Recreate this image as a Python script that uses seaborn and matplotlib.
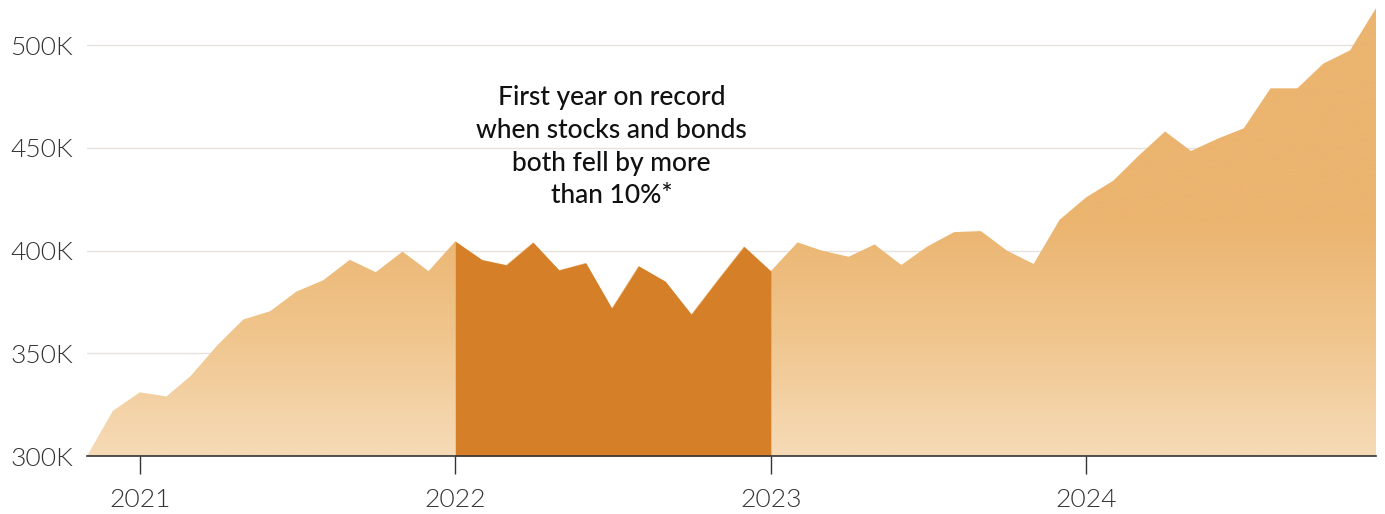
import numpy as np
import pandas as pd
import seaborn as sns
import matplotlib.pyplot as plt
import matplotlib.dates as mdates
from matplotlib.colors import LinearSegmentedColormap

# monthly values, Nov 2020 - Dec 2024 (thousands)
months = pd.date_range("2020-11-01", "2024-12-01", freq="MS")
values = [300, 322,
          331, 329, 339, 354, 366.5, 370.5, 380, 385.5, 395.5, 389.5, 399.5, 390,
          404.5, 395.5, 393, 404, 390.5, 394, 372, 392.5, 385, 369, 386, 402,
          390, 404, 400, 397, 403, 393, 402, 409, 409.5, 400, 393.5, 415,
          426, 434, 446, 458, 448.5, 454.5, 459.5, 479, 479, 491, 497.5, 518]
highlight_start = "2022-01-01"
highlight_end = "2023-01-01"
year_ticks = ["2021-01-01", "2022-01-01", "2023-01-01", "2024-01-01"]
year_labels = ["2021", "2022", "2023", "2024"]
y_ticks = [300000, 350000, 400000, 450000, 500000]
y_labels = ["300K", "350K", "400K", "450K", "500K"]
note = "First year on record\nwhen stocks and bonds\nboth fell by more\nthan 10%*"

df = pd.DataFrame({"month": months, "value": np.array(values) * 1000})

sns.set_style("white")
plt.rcParams["font.family"] = ["Lato", "DejaVu Sans"]

fig = plt.figure(figsize=(13.85, 5.14), dpi=100)
ax = fig.add_axes([87 / 1385, 58 / 514, 1289 / 1385, 456 / 514])

sns.lineplot(data=df, x="month", y="value", ax=ax, lw=0)

ymin, ymax = 300000, 522000
x = mdates.date2num(df["month"])
y = df["value"].values

# gradient fill clipped to the area (light at the bottom)
poly = ax.fill_between(x, ymin, y, color="none", lw=0)
cmap = LinearSegmentedColormap.from_list(
    "g", [(0, "#F6DBB7"), (0.5, "#F0C68E"), (1, "#EBB46F")])
ygrid = np.linspace(ymin, ymax, 400)
grad = np.clip((ygrid - ymin) / 115000, 0, 1)[:, None]
img = ax.imshow(grad, cmap=cmap, vmin=0, vmax=1, aspect="auto", origin="lower",
                extent=[x[0], x[-1], ymin, ymax], zorder=1, interpolation="bilinear")
img.set_clip_path(poly.get_paths()[0], transform=ax.transData)
poly.remove()

mask = (df["month"] >= highlight_start) & (df["month"] <= highlight_end)
ax.fill_between(x[mask], ymin, y[mask], color="#D67F29", lw=0, zorder=2)

ax.set_xlim(x[0], x[-1])
ax.set_ylim(ymin, ymax)

ax.set_yticks(y_ticks)
ax.set_yticklabels(y_labels)
ax.set_xticks(mdates.date2num(pd.to_datetime(year_ticks)))
ax.set_xticklabels(year_labels)
ax.set_xlabel("")
ax.set_ylabel("")

for t in ax.get_xticklabels() + ax.get_yticklabels():
    t.set_fontweight(300)
    t.set_fontsize(19)
    t.set_color("#333333")

ax.tick_params(axis="y", left=False, length=0, pad=10)
ax.tick_params(axis="x", bottom=True, length=13, width=1, color="#333333",
               pad=10, direction="out")

ax.grid(axis="y", color="#E6E3DF", lw=1, zorder=0)
ax.set_axisbelow(True)
for s in ["top", "right", "left"]:
    ax.spines[s].set_visible(False)
ax.spines["bottom"].set_color("#333333")
ax.spines["bottom"].set_linewidth(1.2)
ax.spines["bottom"].set_zorder(5)

ax.text(mdates.date2num(pd.Timestamp("2022-07-01")), 450500, note,
        ha="center", va="center", multialignment="center",
        fontsize=19, fontweight=500, color="#111111", linespacing=1.38, zorder=6)

fig.savefig("out.png", dpi=100)
